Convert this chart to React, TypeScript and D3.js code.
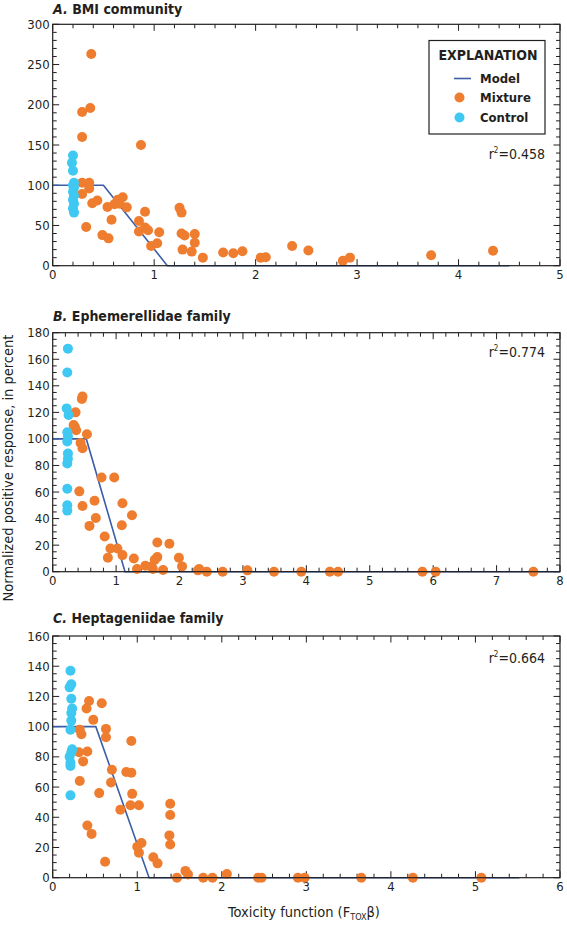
import React from "react";
import * as d3 from "d3";

// toxicity function (x) vs normalized positive response, percent (y)
const bmiControl: [number, number][] = [
  [0.2, 137], [0.19, 128], [0.2, 118], [0.21, 103], [0.2, 100], [0.21, 97],
  [0.2, 92], [0.21, 87], [0.2, 82], [0.21, 77], [0.2, 71], [0.21, 66],
];
const bmiMixture: [number, number][] = [
  [0.38, 263], [0.37, 196], [0.29, 191], [0.29, 160], [0.87, 150],
  [0.29, 103], [0.36, 103], [0.36, 96], [0.29, 89], [0.39, 77.5], [0.44, 81],
  [0.33, 48], [0.49, 38], [0.55, 34], [0.54, 73], [0.58, 57], [0.64, 82],
  [0.69, 85], [0.66, 77], [0.73, 72.5], [0.61, 76.5], [0.85, 55.5], [0.85, 42.5],
  [0.91, 47.5], [0.94, 44], [0.91, 67], [1.05, 41.5], [0.97, 24.5], [1.03, 28],
  [1.25, 72], [1.27, 66], [1.27, 40], [1.3, 37.5], [1.4, 39.5], [1.4, 28.5],
  [1.28, 20], [1.37, 17.5], [1.48, 10], [1.68, 16.5], [1.78, 15.5], [1.87, 18],
  [2.05, 10], [2.1, 10.5], [2.36, 24.5], [2.52, 19], [2.86, 6], [2.93, 10],
  [3.73, 13], [4.34, 18.5],
];
const bmiModel: [number, number][] = [[0, 100], [0.5, 100], [1.13, 0], [4.5, 0]];

const ephControl: [number, number][] = [
  [0.24, 168], [0.23, 150], [0.22, 123], [0.25, 118], [0.23, 105], [0.24, 102],
  [0.23, 98], [0.24, 89], [0.24, 85], [0.23, 81.5], [0.23, 62.5], [0.23, 50],
  [0.23, 46],
];
const ephMixture: [number, number][] = [
  [0.47, 132], [0.46, 130], [0.36, 120], [0.35, 109], [0.37, 106.5], [0.33, 110.5],
  [0.54, 103.5], [0.44, 97], [0.47, 93], [0.77, 71], [0.97, 71], [0.42, 60.5],
  [0.47, 49.5], [0.66, 53.5], [0.68, 40.5], [0.58, 34.5], [1.1, 51.5], [1.09, 35],
  [1.25, 42.5], [0.82, 26.5], [0.91, 17.5], [1.02, 17.5], [0.87, 10.5], [1.1, 12.5],
  [1.28, 10], [1.33, 2], [1.46, 4.5], [1.56, 4], [1.65, 11], [1.65, 22],
  [1.84, 21], [1.61, 9], [1.58, 2], [1.74, 1.3], [1.99, 10.5], [2.04, 4],
  [2.29, 1], [2.31, 2], [2.43, 0], [2.68, 0], [3.07, 1], [3.49, 0], [3.92, 0],
  [4.37, 0], [4.5, 0], [5.83, 0], [6.04, 0], [7.58, 0],
];
const ephModel: [number, number][] = [[0, 100], [0.53, 100], [1.14, 0], [8, 0]];

const hepControl: [number, number][] = [
  [0.21, 137], [0.22, 128], [0.2, 126], [0.22, 118.5], [0.23, 112], [0.22, 109],
  [0.22, 104], [0.21, 98], [0.23, 85], [0.22, 83], [0.2, 80], [0.21, 76],
  [0.21, 74], [0.21, 54.5],
];
const hepMixture: [number, number][] = [
  [0.43, 117], [0.4, 112], [0.48, 104.5], [0.58, 115.5], [0.32, 98], [0.34, 95],
  [0.31, 83], [0.41, 83.5], [0.36, 77], [0.32, 64], [0.41, 34.5], [0.46, 29],
  [0.63, 98.5], [0.63, 93], [0.55, 56], [0.7, 71.5], [0.69, 63], [0.62, 10.5],
  [0.93, 90.5], [0.87, 70], [0.93, 69.5], [0.94, 55.5], [0.92, 48], [1.02, 48],
  [0.8, 45], [1.0, 20.5], [1.05, 23], [1.02, 16.5], [1.19, 13.5], [1.24, 9.5],
  [1.39, 49], [1.39, 41.5], [1.38, 28], [1.39, 22], [1.47, 0], [1.57, 4.5],
  [1.6, 2.2], [1.78, 0], [1.89, 0], [2.06, 2.5], [2.43, 0], [2.47, 0],
  [2.9, 0], [2.98, 0], [3.65, 0], [4.26, 0], [5.07, 0],
];
const hepModel: [number, number][] = [[0, 100], [0.51, 100], [1.14, 0], [5.52, 0]];

const ORANGE = "#ef7d2f";
const CYAN = "#3fc8f2";
const NAVY = "#3a5ea8";
const INK = "#231f20";
const FONT = "'Liberation Sans Narrow', 'DejaVu Sans Condensed', 'Arial Narrow', sans-serif";

const panels = [
  {
    letter: "A.", name: "BMI community", r2: "0.458",
    top: 24.3, bottom: 265.7, xMax: 5, yMax: 300, yMajor: 50, yMinor: 10,
    mixture: bmiMixture, control: bmiControl, model: bmiModel, legend: true,
    titleY: 14, r2Y: 159,
  },
  {
    letter: "B.", name: "Ephemerellidae family", r2: "0.774",
    top: 332.7, bottom: 571.7, xMax: 8, yMax: 180, yMajor: 20, yMinor: 5,
    mixture: ephMixture, control: ephControl, model: ephModel, legend: false,
    titleY: 320.5, r2Y: 357,
  },
  {
    letter: "C.", name: "Heptageniidae family", r2: "0.664",
    top: 636, bottom: 877.7, xMax: 6, yMax: 160, yMajor: 20, yMinor: 5,
    mixture: hepMixture, control: hepControl, model: hepModel, legend: false,
    titleY: 623, r2Y: 663,
  },
];

const LEFT = 52.7;
const RIGHT = 560;
const R = 5;

function Panel({ p }: { p: typeof panels[number] }) {
  const x = d3.scaleLinear().domain([0, p.xMax]).range([LEFT, RIGHT]);
  const y = d3.scaleLinear().domain([0, p.yMax]).range([p.bottom, p.top]);
  const line = d3.line<[number, number]>().x(d => x(d[0])).y(d => y(d[1]));

  const xMinor = d3.range(0, p.xMax + 1e-9, 0.2).map(v => +v.toFixed(1));
  const xMajor = d3.range(0, p.xMax + 1, 1);
  const yMinor = d3.range(0, p.yMax + 1e-9, p.yMinor);
  const yMajor = d3.range(0, p.yMax + 1, p.yMajor);
  const isMajorX = (v: number) => Math.abs(v - Math.round(v)) < 1e-6;
  const isMajorY = (v: number) => v % p.yMajor === 0;

  return (
    <g>
      <text x={53} y={p.titleY} fontFamily={FONT} fontSize={14} fontWeight="bold" fill={INK}>
        <tspan fontStyle="italic">{p.letter}</tspan> {p.name}
      </text>

      {/* ticks on all four sides, pointing inward */}
      {xMinor.map(v => {
        const len = isMajorX(v) ? 6.5 : 4;
        return (
          <g key={"xt" + v} stroke={INK} strokeWidth={1}>
            <line x1={x(v)} x2={x(v)} y1={p.top} y2={p.top + len} />
            <line x1={x(v)} x2={x(v)} y1={p.bottom} y2={p.bottom - len} />
          </g>
        );
      })}
      {yMinor.map(v => {
        const len = isMajorY(v) ? 6.5 : 4;
        return (
          <g key={"yt" + v} stroke={INK} strokeWidth={1}>
            <line x1={LEFT} x2={LEFT + len} y1={y(v)} y2={y(v)} />
            <line x1={RIGHT} x2={RIGHT - len} y1={y(v)} y2={y(v)} />
          </g>
        );
      })}
      {xMajor.map(v => (
        <text key={"xl" + v} x={x(v)} y={p.bottom + 13.5} textAnchor="middle"
          fontFamily={FONT} fontSize={13} fill={INK}>{v}</text>
      ))}
      {yMajor.map(v => (
        <text key={"yl" + v} x={LEFT - 3} y={y(v) + 4.5} textAnchor="end"
          fontFamily={FONT} fontSize={13} fill={INK}>{v}</text>
      ))}

      <path d={line(p.model) || ""} fill="none" stroke={NAVY} strokeWidth={1.6} />

      {p.mixture.map((d, i) => (
        <circle key={"m" + i} cx={x(d[0])} cy={y(d[1])} r={R} fill={ORANGE} />
      ))}
      {p.control.map((d, i) => (
        <circle key={"c" + i} cx={x(d[0])} cy={y(d[1])} r={R} fill={CYAN} />
      ))}

      <rect x={LEFT} y={p.top} width={RIGHT - LEFT} height={p.bottom - p.top}
        fill="none" stroke={INK} strokeWidth={1.2} />

      <text x={545} y={p.r2Y} textAnchor="end" fontFamily={FONT} fontSize={14} fill={INK}>
        r<tspan fontSize={8} dy={-6}>2</tspan><tspan dy={6}>={p.r2}</tspan>
      </text>

      {p.legend && (
        <g fontFamily={FONT} fill={INK}>
          <rect x={429} y={40.5} width={116} height={93.5} fill="#fff" stroke={INK} strokeWidth={1.2} />
          <text x={488} y={60} textAnchor="middle" fontSize={14} fontWeight="bold">EXPLANATION</text>
          <line x1={454} x2={471} y1={78.5} y2={78.5} stroke={NAVY} strokeWidth={1.6} />
          <text x={480} y={83} fontSize={13} fontWeight="bold">Model</text>
          <circle cx={459.5} cy={97.5} r={R} fill={ORANGE} />
          <text x={480} y={102} fontSize={13} fontWeight="bold">Mixture</text>
          <circle cx={459.5} cy={117.5} r={R} fill={CYAN} />
          <text x={480} y={122} fontSize={13} fontWeight="bold">Control</text>
        </g>
      )}
    </g>
  );
}

export default function App() {
  return (
    <svg width={567} height={933} style={{ position: "absolute", left: 0, top: 0, background: "#fff" }}>
      {panels.map(p => <Panel key={p.letter} p={p} />)}
      <text transform="translate(13,468) rotate(-90)" textAnchor="middle"
        fontFamily={FONT} fontSize={14.5} fill={INK}>
        Normalized positive response, in percent
      </text>
      <text x={304} y={917} textAnchor="middle" fontFamily={FONT} fontSize={14.5} fill={INK}>
        Toxicity function (F<tspan fontSize={9} dy={3}>TOX</tspan><tspan dy={-3}>β)</tspan>
      </text>
    </svg>
  );
}
